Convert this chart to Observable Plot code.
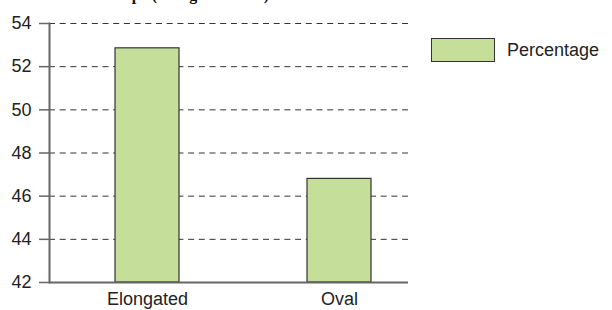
<!DOCTYPE html>
<html>
<head>
<meta charset="utf-8">
<script src="https://cdn.jsdelivr.net/npm/d3@7"></script>
<script src="https://cdn.jsdelivr.net/npm/@observablehq/plot@0.6"></script>
<style>
  html, body { margin: 0; padding: 0; background: #fff; overflow: hidden; }
  #wrap { position: relative; width: 612px; height: 310px; overflow: hidden; }
  #title { position: absolute; left: 106px; top: -13px; font: bold 16px "Liberation Serif", "Times New Roman", serif; line-height: 16px; color: #111; white-space: nowrap; }
  #legend { position: absolute; left: 431px; top: 38px; display: flex; align-items: center; font: 18px "Liberation Sans", Arial, sans-serif; color: #222; }
  #legend .sw { width: 62px; height: 22px; border: 1px solid #333; background: #c5df9b; margin-right: 12px; }
</style>
</head>
<body>
<div id="wrap">
  <div id="title"></div>
  <div id="legend"><div class="sw"></div><span id="legtext"></span></div>
</div>
<script>
const titleText = "Shape (Elongated/Oval)";
const seriesName = "Percentage";
const categories = ["Elongated", "Oval"];
const percentages = [52.85, 46.8];
const yTicks = [42, 44, 46, 48, 50, 52, 54];
const gridTicks = [44, 46, 48, 50, 52, 54];

const data = categories.map((c, i) => ({category: c, value: percentages[i]}));

document.getElementById("title").textContent = titleText;
document.getElementById("legtext").textContent = seriesName;

const chart = Plot.plot({
  width: 612,
  height: 310,
  marginLeft: 49,
  marginRight: 204,
  marginTop: 23,
  marginBottom: 28,
  style: {fontFamily: "'Liberation Sans', Arial, sans-serif", fontSize: "18px", color: "#222", background: "transparent"},
  x: {domain: categories, range: [114, 371], paddingInner: 0.668, paddingOuter: 0, label: null},
  y: {domain: [42, 54], label: null},
  marks: [
    Plot.ruleY(gridTicks, {stroke: "#333", strokeWidth: 1, strokeDasharray: "6,4.7"}),
    Plot.barY(data, {x: "category", y1: 42, y2: "value", fill: "#c5df9b", stroke: "#333", strokeWidth: 1.2}),
    Plot.ruleY([42], {stroke: "#666", strokeWidth: 2}),
    Plot.frame({anchor: "left", stroke: "#666", strokeWidth: 2}),
    Plot.axisY({ticks: yTicks, tickSize: 10, tickPadding: 8, stroke: "#666", strokeWidth: 1.5, fill: "#222", fontSize: 18, label: null}),
    Plot.axisX({tickSize: 0, tickPadding: 10, fill: "#222", fontSize: 18, label: null})
  ]
});
chart.style.position = "absolute";
chart.style.left = "0";
chart.style.top = "0";
document.getElementById("wrap").appendChild(chart);
</script>
</body>
</html>
